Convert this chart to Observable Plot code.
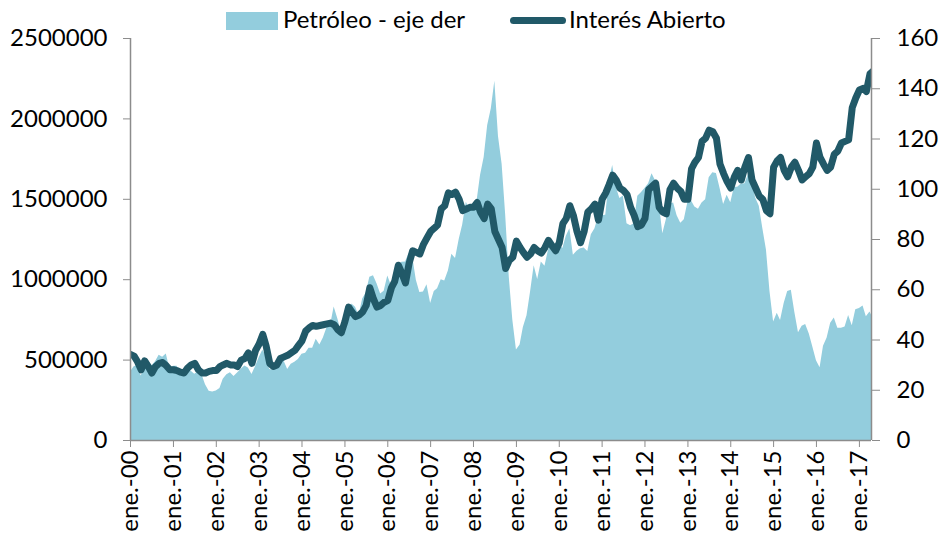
<!DOCTYPE html>
<html>
<head>
<meta charset="utf-8">
<script src="https://cdn.jsdelivr.net/npm/d3@7"></script>
<script src="https://cdn.jsdelivr.net/npm/@observablehq/plot@0.6"></script>
<style>
  html, body { margin: 0; padding: 0; background: #fff; }
  body { width: 941px; height: 540px; overflow: hidden; font-family: Lato, sans-serif; }
  #legend { position: relative; height: 20px; width: 941px; font-size: 24px; color: #000; }
  #legend .sw { position: absolute; }
  #legend .tx { position: absolute; top: 4px; line-height: 30px; white-space: nowrap; }
</style>
</head>
<body>
<div id="legend">
  <div class="sw" style="left:226px; top:12px; width:52px; height:18px; background:#93CDDD;"></div>
  <div class="tx" style="left:283px;">Petróleo - eje der</div>
  <div class="sw" style="left:510px; top:17px; width:56px; height:7px; border-radius:3.5px; background:#215968;"></div>
  <div class="tx" style="left:569px;">Interés Abierto</div>
</div>
<div id="chart"></div>
<script>
// ---- Data (monthly, Jan 2000 .. May 2017) ----
const startMonth = "2000-01-01";
const xStart = new Date("2000-01-01");
const xEnd = new Date("2017-04-14");

// Oil price (right axis, USD/bbl)
const oilPrice = [
  27.3, 29.4, 29.9, 25.7, 28.8, 31.8, 29.7, 31.3, 33.9, 33.1, 34.4, 28.5,
  29.6, 29.6, 27.2, 27.4, 28.6, 27.6, 26.4, 27.4, 26.2, 22.2, 19.6, 19.3,
  19.7, 20.7, 24.4, 26.2, 27.0, 25.5, 26.9, 28.4, 29.7, 28.9, 26.3, 29.4,
  32.9, 35.9, 33.6, 28.3, 28.1, 30.7, 30.8, 31.6, 28.3, 30.3, 31.1, 32.2,
  34.3, 34.7, 36.7, 36.7, 40.3, 38.0, 40.8, 44.9, 45.9, 53.1, 48.5, 43.3,
  46.8, 48.0, 54.3, 53.0, 49.8, 56.3, 58.7, 65.0, 65.6, 62.4, 58.3, 59.4,
  65.5, 61.6, 62.9, 69.7, 70.9, 71.0, 74.4, 73.1, 63.8, 58.9, 59.1, 62.0,
  54.5, 59.3, 60.4, 64.0, 63.5, 67.5, 74.1, 72.4, 79.9, 85.8, 94.8, 91.7,
  93.0, 95.4, 105.5, 112.6, 125.4, 132.0, 143.0, 121.0, 110.0, 90.0, 65.0, 48.0,
  36.0, 38.0, 45.0, 49.7, 59.0, 69.6, 64.1, 71.0, 69.4, 75.7, 78.0, 74.5,
  78.3, 76.4, 81.2, 84.3, 73.7, 75.3, 76.3, 76.6, 75.2, 81.9, 84.3, 89.2,
  89.6, 89.7, 102.9, 109.5, 100.9, 96.3, 97.3, 86.3, 85.5, 86.3, 97.2, 98.6,
  100.3, 102.2, 106.2, 103.3, 94.7, 82.3, 87.9, 94.1, 94.5, 89.5, 86.5, 87.9,
  94.8, 95.3, 92.9, 92.0, 94.5, 95.8, 104.6, 106.6, 106.3, 100.5, 93.9, 97.6,
  94.6, 100.8, 100.8, 102.1, 102.2, 105.8, 103.6, 96.5, 93.2, 84.4, 75.8, 59.3,
  47.2, 50.6, 47.8, 54.5, 59.3, 59.8, 50.9, 42.9, 45.5, 46.2, 42.4, 37.2,
  31.7, 29.0, 37.5, 40.8, 46.7, 48.8, 44.7, 44.7, 45.2, 49.8, 45.7, 52.0,
  52.5, 53.5, 49.3, 51.1, 48.5
];

// Open interest (left axis, contracts)
const openInterest = [
  535000, 525000, 490000, 440000, 495000, 460000, 420000, 460000, 480000, 485000, 465000, 440000,
  440000, 435000, 425000, 420000, 450000, 470000, 480000, 440000, 420000, 420000, 430000, 435000,
  435000, 460000, 470000, 480000, 470000, 470000, 460000, 500000, 510000, 545000, 480000, 560000,
  600000, 660000, 590000, 480000, 460000, 470000, 510000, 520000, 530000, 545000, 560000, 590000,
  620000, 680000, 700000, 715000, 710000, 715000, 720000, 725000, 730000, 720000, 690000, 670000,
  740000, 830000, 800000, 770000, 780000, 800000, 840000, 950000, 880000, 830000, 840000, 860000,
  870000, 950000, 990000, 1090000, 1040000, 980000, 1100000, 1180000, 1170000, 1160000, 1220000, 1260000,
  1300000, 1320000, 1340000, 1440000, 1460000, 1540000, 1530000, 1545000, 1500000, 1430000, 1440000, 1450000,
  1450000, 1480000, 1420000, 1380000, 1470000, 1440000, 1300000, 1250000, 1200000, 1070000, 1120000, 1140000,
  1240000, 1200000, 1170000, 1140000, 1160000, 1200000, 1180000, 1165000, 1200000, 1245000, 1210000, 1180000,
  1230000, 1350000, 1380000, 1460000, 1400000, 1300000, 1230000, 1300000, 1420000, 1440000, 1470000, 1370000,
  1500000, 1540000, 1590000, 1650000, 1620000, 1570000, 1555000, 1530000, 1450000, 1400000, 1330000, 1340000,
  1380000, 1560000, 1580000, 1600000, 1450000, 1420000, 1410000, 1560000, 1600000, 1570000, 1550000, 1500000,
  1500000, 1690000, 1730000, 1760000, 1860000, 1880000, 1930000, 1920000, 1880000, 1720000, 1660000, 1610000,
  1570000, 1640000, 1680000, 1620000, 1700000, 1760000, 1620000, 1570000, 1520000, 1500000, 1430000, 1410000,
  1700000, 1740000, 1760000, 1680000, 1640000, 1700000, 1730000, 1680000, 1620000, 1640000, 1660000, 1700000,
  1850000, 1760000, 1720000, 1680000, 1700000, 1780000, 1800000, 1850000, 1860000, 1870000, 2070000, 2130000,
  2180000, 2190000, 2170000, 2280000, 2300000
];

const leftTicks = [0, 500000, 1000000, 1500000, 2000000, 2500000];
const rightTicks = [0, 20, 40, 60, 80, 100, 120, 140, 160];
const xTickLabels = ["ene.-00","ene.-01","ene.-02","ene.-03","ene.-04","ene.-05","ene.-06","ene.-07","ene.-08",
  "ene.-09","ene.-10","ene.-11","ene.-12","ene.-13","ene.-14","ene.-15","ene.-16","ene.-17"];

// ---- Build tables ----
const K = 2500000 / 160; // right-axis value -> left-axis units
const t0 = new Date(startMonth);
const monthDate = i => d3.utcMonth.offset(t0, i);
const oilData = oilPrice.map((v, i) => ({date: monthDate(i), v: v * K}));
const oiData = openInterest.map((v, i) => ({date: monthDate(i), v}));
const xTicks = xTickLabels.map((_, i) => d3.utcYear.offset(t0, i));

const axisGray = "#8c8c8c";
const chart = Plot.plot({
  width: 941,
  height: 520,
  marginTop: 18,
  marginBottom: 100,
  marginLeft: 130,
  marginRight: 70,
  style: {fontFamily: "Lato, sans-serif", fontSize: "24px", color: "#000", background: "#fff", overflow: "visible"},
  x: {type: "utc", domain: [xStart, xEnd]},
  y: {domain: [0, 2500000]},
  marks: [
    Plot.areaY(oilData, {x: "date", y: "v", fill: "#93CDDD", curve: "linear", clip: true}),
    Plot.line(oiData, {x: "date", y: "v", stroke: "#215968", strokeWidth: 7, strokeLinejoin: "round", strokeLinecap: "round", clip: true}),
    Plot.ruleX([xStart], {stroke: axisGray, strokeWidth: 1.5}),
    Plot.ruleX([xEnd], {stroke: axisGray, strokeWidth: 1.5}),
    Plot.ruleY([0], {stroke: axisGray, strokeWidth: 1.5}),
    Plot.axisY({anchor: "left", ticks: leftTicks, tickFormat: d => String(d), tickSize: 7, tickPadding: 16, stroke: axisGray, fill: "#000", label: null}),
    Plot.axisY({anchor: "right", ticks: rightTicks.map(v => v * K), tickFormat: d => String(Math.round(d / K)), tickSize: 8, tickPadding: 17, stroke: axisGray, fill: "#000", label: null}),
    Plot.axisX({ticks: xTicks, tickFormat: (d, i) => xTickLabels[i], tickRotate: -90, tickSize: 7, tickPadding: 3, stroke: axisGray, fill: "#000", label: null})
  ]
});
document.getElementById("chart").appendChild(chart);
</script>
</body>
</html>
